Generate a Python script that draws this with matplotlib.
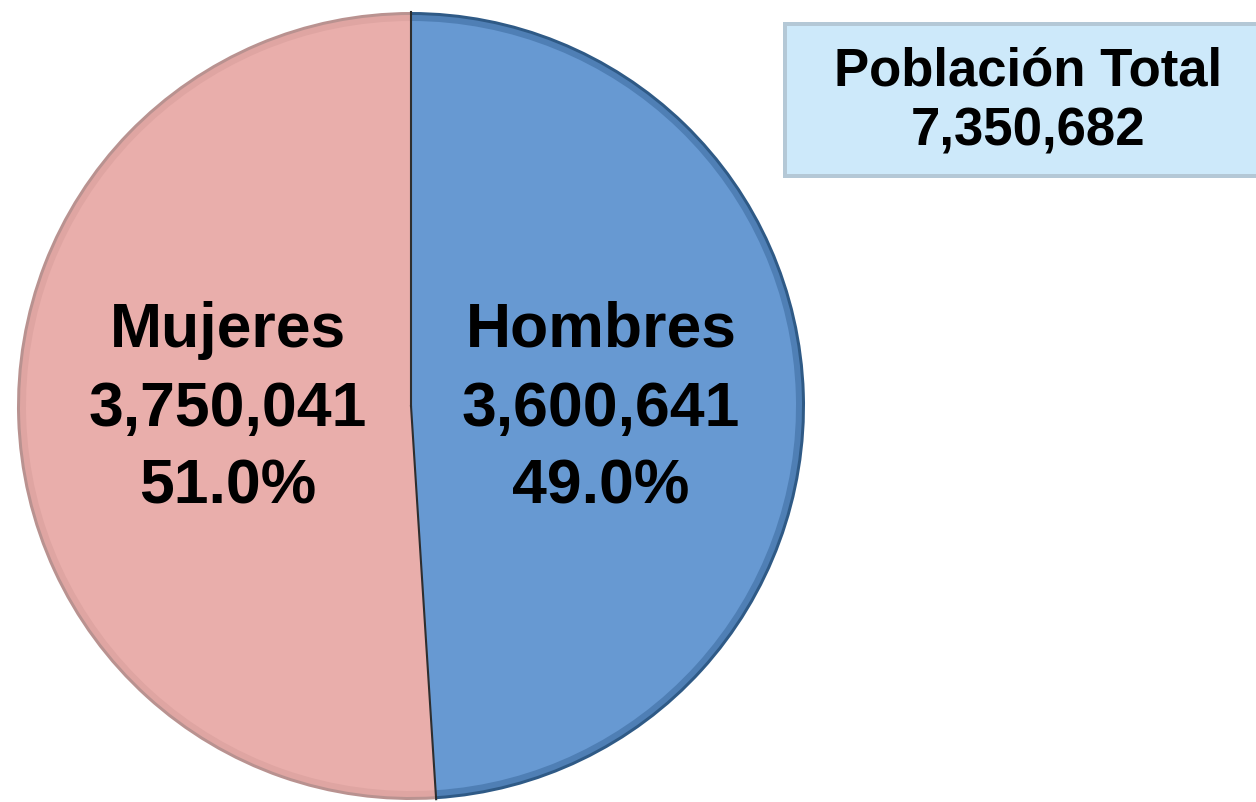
"""
Población total por sexo - pie chart with summary box.
"""

import numpy as np
import matplotlib.pyplot as plt
from matplotlib.patches import Rectangle

#  Data
labels  = ["Hombres", "Mujeres"]
values  = [3600641, 3750041]
colors  = ["#6799d2", "#e9aeab"]
total   = 7350682
title   = "Población Total"

#  Layout (pixel units, y up)
W, H    = 1256, 802
CENTER  = (411, 396)
RADIUS  = 394
FONT    = "Liberation Sans"

fig = plt.figure(figsize=(W / 100, H / 100), dpi=100)
ax = fig.add_axes([0, 0, 1, 1])

#  Pie (bevel look: darker rim, then main fill)
rim = ["#2f5a86", "#b99290"]
ax.pie(values, colors=rim, startangle=90, counterclock=False,
       center=CENTER, radius=RADIUS, frame=True,
       wedgeprops=dict(edgecolor="none"))
ax.pie(values, colors=["#4f7fb5", "#dfa5a2"], startangle=90, counterclock=False,
       center=CENTER, radius=RADIUS - 3, frame=True,
       wedgeprops=dict(edgecolor="none"))
ax.pie(values, colors=colors, startangle=90, counterclock=False,
       center=CENTER, radius=RADIUS - 9, frame=True,
       wedgeprops=dict(edgecolor="none"))
ax.set_xlim(0, W)
ax.set_ylim(0, H)
ax.set_aspect("equal")
ax.axis("off")

# divider lines between slices
end = np.deg2rad(90 - 360 * values[0] / sum(values))
ax.plot([CENTER[0], CENTER[0]], [CENTER[1], CENTER[1] + RADIUS],
        color="#2e2e2e", lw=1.5)
ax.plot([CENTER[0], CENTER[0] + RADIUS * np.cos(end)],
        [CENTER[1], CENTER[1] + RADIUS * np.sin(end)],
        color="#2e2e2e", lw=1.5)

#  Slice labels
shares = [v / sum(values) * 100 for v in values]
xs = [601, 228]
for name, v, pct, x in zip(labels, values, shares, xs):
    for txt, y in zip([name, f"{v:,}", f"{pct:.1f}%"], [472, 392, 315]):
        ax.text(x, y, txt, ha="center", va="center", fontsize=45,
                fontweight="bold", family=FONT, color="black")

#  Total box
ax.add_patch(Rectangle((783, H - 178), 500, 156, facecolor="#b4c8d6",
                       edgecolor="none"))
ax.add_patch(Rectangle((787, H - 174), 500, 148, facecolor="#cde9fa",
                       edgecolor="none"))
ax.text(1028, H - 72, title, ha="center", va="center", fontsize=38,
        fontweight="bold", family=FONT)
ax.text(1028, H - 132, f"{total:,}", ha="center", va="center", fontsize=38,
        fontweight="bold", family=FONT)

plt.savefig("out.png", dpi=100)
